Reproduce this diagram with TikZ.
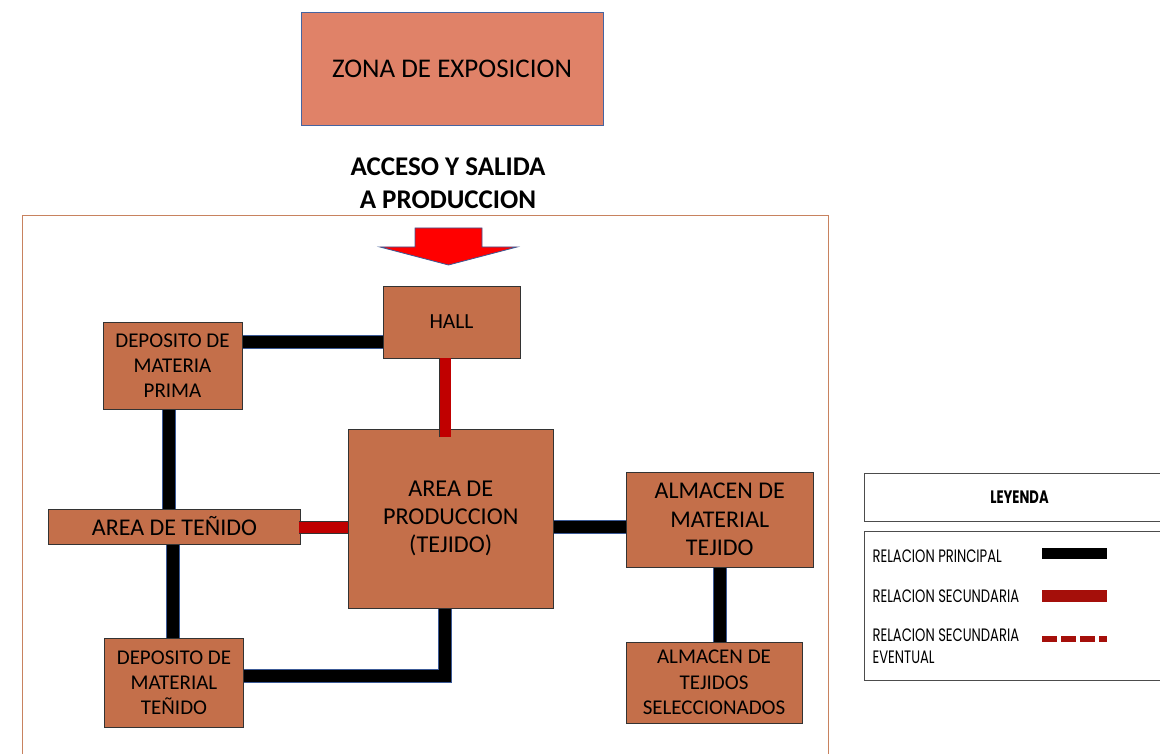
\documentclass[tikz,border=0pt]{standalone}
\usepackage{fontspec}
\setmainfont{Carlito}
\newfontfamily\legfont[FakeStretch=0.73]{Poppins}
\usetikzlibrary{positioning,calc,backgrounds}
\definecolor{BoxFill}{RGB}{196,111,74}
\definecolor{ZonaFill}{RGB}{224,130,104}
\definecolor{ZonaEdge}{RGB}{70,100,160}
\definecolor{FrameEdge}{RGB}{200,130,95}
\definecolor{LinkEdge}{RGB}{60,90,150}
\definecolor{RedLink}{RGB}{192,0,0}
\definecolor{LegRed}{RGB}{165,15,10}

\begin{document}
\begin{tikzpicture}[x=1pt,y=-1pt,
  box/.style={draw=black!80,fill=BoxFill,inner sep=0pt,align=center,line width=0.9pt},
  mainlink/.style={draw=LinkEdge,line width=1pt,double=black,double distance=12pt},
  seclink/.style={draw=black!80,line width=0.7pt,double=RedLink,double distance=11pt},
  legtxt/.style={anchor=west,align=left,font=\legfont\fontsize{18}{22}\selectfont}]
\useasboundingbox (0,0) rectangle (1160,754);

% top: exhibition zone and access
\node[draw=ZonaEdge,fill=ZonaFill,minimum width=302,minimum height=113,line width=0.8pt,
  font=\fontsize{27}{30}\selectfont] (zona) at (452,68.5) {ZONA DE EXPOSICION};
\node[align=center,font=\bfseries\fontsize{27}{33}\selectfont] (acceso) at (448,183.5) {ACCESO Y SALIDA\\A PRODUCCION};

% production frame
\draw[FrameEdge,line width=0.8pt] (22,215) rectangle (828,770);
\draw[LinkEdge,fill=red,line width=0.8pt] (415,228) -- (482,228) -- (482,247) -- (517,247)
  -- (448.5,265) -- (380,247) -- (415,247) -- cycle;

% areas
\node[box,minimum width=137,minimum height=72,font=\fontsize{21.5}{25}\selectfont] (hall) at (451.5,322) {HALL};
\node[box,minimum width=139,minimum height=87,font=\fontsize{21}{25}\selectfont] (dmp) at (172.5,365.5) {DEPOSITO DE\\MATERIA\\PRIMA};
\node[box,minimum width=205.5,minimum height=179,font=\fontsize{24.2}{28}\selectfont] (prod) at (450.75,518.5) {AREA DE\\PRODUCCION\\(TEJIDO)};
\node[box,minimum width=252,minimum height=35,font=\fontsize{24}{28}\selectfont] (tenido) at (174.5,526.5) {AREA DE TEÑIDO};
\node[box,minimum width=139,minimum height=89,font=\fontsize{21}{25}\selectfont] (dmt) at (174,682.5) {DEPOSITO DE\\MATERIAL\\TEÑIDO};
\node[box,minimum width=187.5,minimum height=95,font=\fontsize{24}{28.5}\selectfont] (amt) at (719.75,519.5) {ALMACEN DE\\MATERIAL\\TEJIDO};
\node[box,minimum width=176,minimum height=81,font=\fontsize{21}{25.5}\selectfont] (ats) at (714,682.5) {ALMACEN DE\\TEJIDOS\\SELECCIONADOS};

% relations
\begin{scope}[on background layer]
\draw[mainlink] ([yshift=24pt]dmp.east) -- ([yshift=24pt]dmp.east -| hall.west);
\draw[mainlink] ([xshift=-3.5pt]dmp.south) -- ([xshift=-3.5pt]dmp.south |- tenido.north);
\draw[mainlink] ([xshift=-1.5pt]tenido.south) -- ([xshift=-1.5pt]tenido.south |- dmt.north);
\draw[mainlink] ([yshift=6.5pt]dmt.east) -| ([xshift=-6.25pt]prod.south);
\draw[mainlink] ([yshift=-8.5pt]prod.east) -- ([yshift=-8.5pt]prod.east -| amt.west);
\draw[mainlink] (amt.south) -- (amt.south |- ats.north);
\end{scope}
\draw[seclink] ([xshift=-6.5pt]hall.south) -- ([xshift=-6.5pt,yshift=-8pt]hall.south |- prod.north);
\draw[seclink] ([xshift=-2pt,yshift=-1pt]tenido.east) -- ([yshift=-1pt]tenido.east -| prod.west);

% legend
\node[draw=black!70,line width=0.8pt,minimum width=311,minimum height=48,inner sep=0pt,
  font=\legfont\bfseries\fontsize{18}{20}\selectfont] (leyenda) at (1019.5,497) {LEYENDA};
\node[draw=black!70,line width=0.8pt,minimum width=311,minimum height=149] (leybox) at (1019.5,605.5) {};
\node[legtxt] (lprin) at (869,556) {RELACION PRINCIPAL};
\node[legtxt] (lsec) at (869,596) {RELACION SECUNDARIA};
\node[legtxt] (leve) at (869,646) {RELACION SECUNDARIA\\EVENTUAL};
\draw[line width=11pt] (1042,553) -- (1107,553);
\draw[LegRed,line width=12pt] (1042,595.5) -- (1107,595.5);
\draw[LegRed,line width=6pt,dash pattern=on 15pt off 4pt] (1042,639) -- (1107,639);
\end{tikzpicture}
\end{document}
